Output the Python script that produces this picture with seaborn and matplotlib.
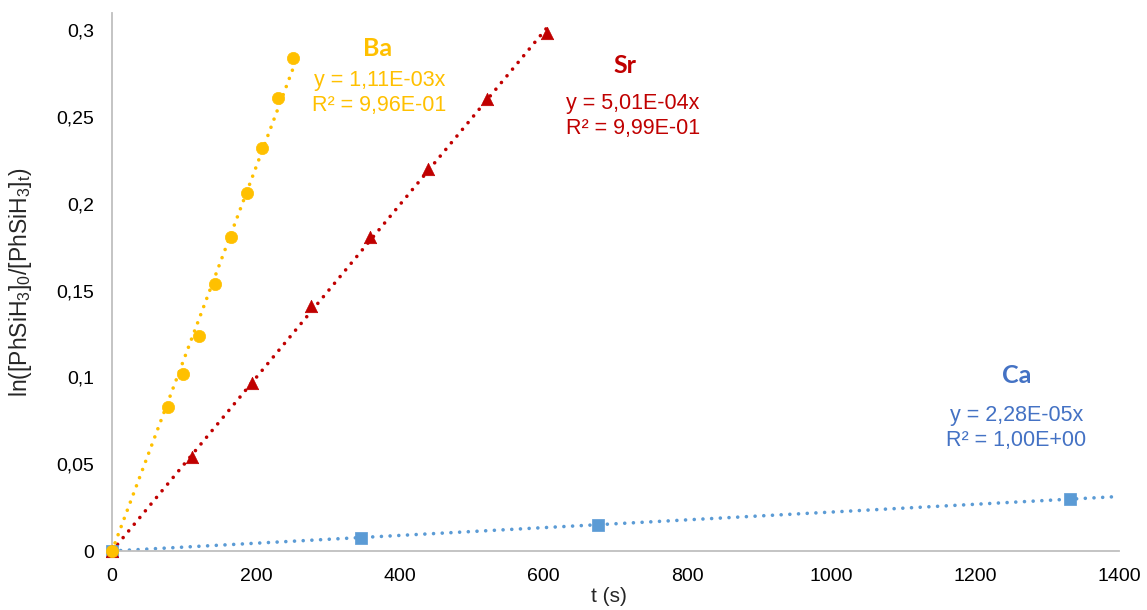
import numpy as np
import pandas as pd
import matplotlib
matplotlib.use("Agg")
import matplotlib.pyplot as plt
import seaborn as sns

# ============================================================
# Data
# ============================================================
ba_t = [0, 78, 99, 121, 143, 166, 187, 209, 231, 252]
ba_y = [0, 0.083, 0.102, 0.124, 0.154, 0.181, 0.206, 0.232, 0.261, 0.284]

sr_t = [0, 111, 194, 276, 358, 440, 522, 605]
sr_y = [0, 0.054, 0.097, 0.141, 0.181, 0.220, 0.260, 0.298]

ca_t = [0, 346, 675, 1332]
ca_y = [0, 0.0075, 0.0150, 0.0300]

x_ticks = [0, 200, 400, 600, 800, 1000, 1200, 1400]
y_ticks = [0, 0.05, 0.1, 0.15, 0.2, 0.25, 0.3]
y_tick_labels = ["0", "0,05", "0,1", "0,15", "0,2", "0,25", "0,3"]

eq_ba = "y = 1,11E-03x\nR² = 9,96E-01"
eq_sr = "y = 5,01E-04x\nR² = 9,99E-01"
eq_ca = "y = 2,28E-05x\nR² = 1,00E+00"

C_BA = "#FFC000"
C_SR = "#C00000"
C_CA = "#5B9BD5"
C_CA_TXT = "#4472C4"

# ============================================================
# Figure
# ============================================================
sns.set_style("white")
plt.rcParams['font.family'] = ['Liberation Sans', 'DejaVu Sans']

fig = plt.figure(figsize=(11.47, 6.10), dpi=100)
ax = fig.add_axes([112 / 1147, 59 / 610, 1007 / 1147, 538 / 610])

dot_style = dict(linestyle=(0, (0.01, 2.4)), dash_capstyle='round', lw=2.6)


def trend(t, y, color, x_end=None):
    # linear trendline forced through the origin
    t = np.asarray(t, float)
    y = np.asarray(y, float)
    k = np.sum(t * y) / np.sum(t * t)
    xe = t.max() if x_end is None else x_end
    xs = np.array([0, xe])
    ax.plot(xs, k * xs, color=color, zorder=2, **dot_style)


trend(ca_t, ca_y, C_CA, x_end=1400)
trend(sr_t, sr_y, C_SR)
trend(ba_t, ba_y, C_BA)

sns.scatterplot(x=ca_t, y=ca_y, marker='s', s=72, color=C_CA, edgecolor=C_CA,
                linewidth=0.5, ax=ax, zorder=3, clip_on=False)
sns.scatterplot(x=sr_t, y=sr_y, marker='^', s=80, color=C_SR, edgecolor=C_SR,
                linewidth=0.5, ax=ax, zorder=4, clip_on=False)
sns.scatterplot(x=ba_t, y=ba_y, marker='o', s=78, color=C_BA, edgecolor=C_BA,
                linewidth=0.5, ax=ax, zorder=5, clip_on=False)

# ============================================================
# Axes styling
# ============================================================
ax.set_xlim(0, 1400)
ax.set_ylim(0, 0.3098)
ax.set_xticks(x_ticks)
ax.set_xticklabels([str(v) for v in x_ticks])
ax.set_yticks(y_ticks)
ax.set_yticklabels(y_tick_labels)
ax.tick_params(axis='both', length=0, labelsize=14, colors='#000000')
ax.tick_params(axis='y', pad=13)
ax.tick_params(axis='x', pad=12)

for side in ['top', 'right']:
    ax.spines[side].set_visible(False)
for side in ['left', 'bottom']:
    ax.spines[side].set_color('#BFBFBF')
    ax.spines[side].set_linewidth(1.3)
ax.grid(False)

ax.set_xlabel("t (s)", fontsize=15)
ax.xaxis.set_label_coords(0.493, -0.066)
ax.set_ylabel(r"$\mathregular{ln([PhSiH_3]_0/[PhSiH_3]_t)}$", fontsize=16.5, va='center')
ax.yaxis.set_label_coords(-0.091, 0.5)

# ============================================================
# Series labels and trendline equations
# ============================================================
lab_font = dict(fontsize=18, fontweight='bold', ha='center', va='center',
                family=['Lato', 'Liberation Sans'])
eq_font = dict(fontsize=15.5, ha='center', va='center', linespacing=1.2)

ax.text(369, 0.2896, "Ba", color=C_BA, **lab_font)
ax.text(372, 0.2637, eq_ba, color=C_BA, **eq_font)

ax.text(713, 0.2793, "Sr", color=C_SR, **lab_font)
ax.text(724, 0.2505, eq_sr, color=C_SR, **eq_font)

ax.text(1258, 0.1013, "Ca", color=C_CA_TXT, **lab_font)
ax.text(1257, 0.0708, eq_ca, color=C_CA_TXT, **eq_font)

fig.savefig("out.png", dpi=100)
